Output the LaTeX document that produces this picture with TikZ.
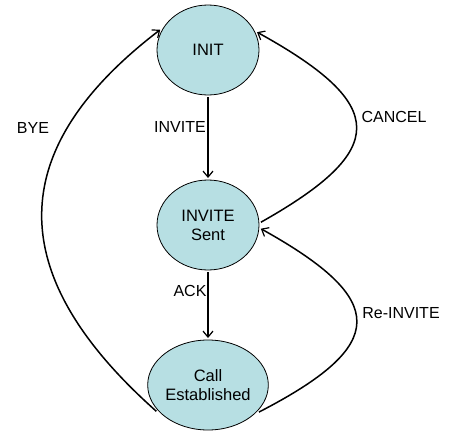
\documentclass[tikz,border=0pt]{standalone}
\usepackage{fontspec}
\setmainfont{Liberation Sans}
\usetikzlibrary{shapes.geometric,arrows.meta}
\definecolor{statefill}{RGB}{183,223,227}
\tikzset{
  state/.style={ellipse, draw=black, line width=0.8pt, fill=statefill,
    minimum width=102pt, minimum height=90pt, inner sep=0pt, outer sep=2pt,
    align=center, font=\fontsize{16.5}{19}\selectfont},
  trans/.style={draw=black, line width=1.5pt,
    -{Straight Barb[length=6pt,width=10pt,line width=1.2pt]}},
  lbl/.style={font=\fontsize{16}{19}\selectfont, inner sep=0pt}
}
\begin{document}
\begin{tikzpicture}[x=1pt,y=-1pt]
  \useasboundingbox (0,0) rectangle (450,431);

  % states
  \node[state] (init) at (208,50) {INIT};
  \node[state] (sent) at (208,225) {INVITE\\Sent};
  \node[state] (est)  at (208,385) {Call\\Established};

  % straight transitions
  \draw[trans] (init) -- (sent);
  \draw[trans] (sent) -- (est);

  % curved transitions
  \draw[trans] (sent.3) .. controls (389,150) and (389,105) .. (init.20);
  \draw[trans] (est.-28) .. controls (389,345) and (389,300) .. (sent.-4);
  \draw[trans] (est.207) .. controls (3,275) and (3,150) .. (init.157);

  % labels
  \node[lbl] (linvite) at (180,127) {INVITE};
  \node[lbl] (lack)    at (190,291) {ACK};
  \node[lbl] (lbye)    at (33,128)  {BYE};
  \node[lbl] (lcancel) at (394,117) {CANCEL};
  \node[lbl] (lre)     at (401,313) {Re-INVITE};
\end{tikzpicture}
\end{document}
